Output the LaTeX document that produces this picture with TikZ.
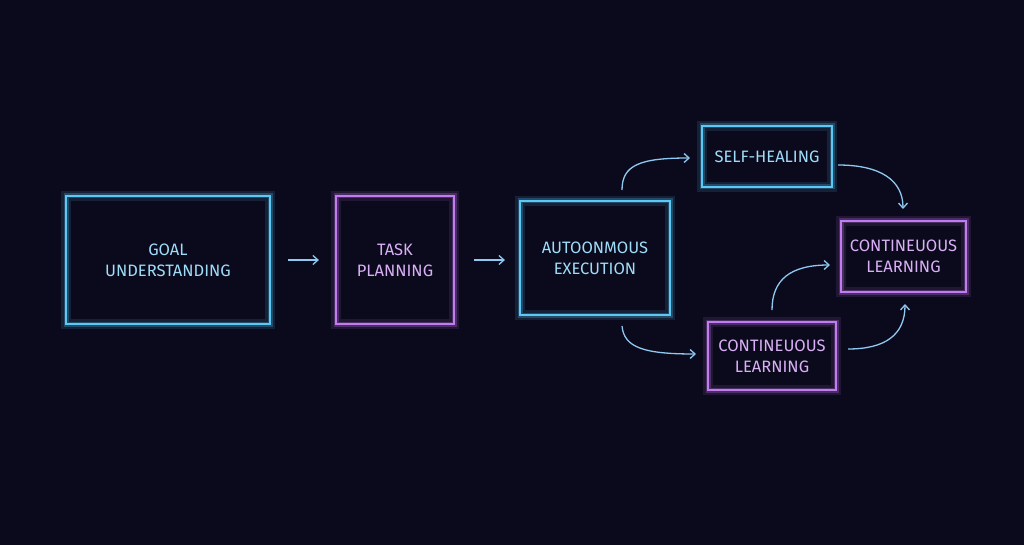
\documentclass[tikz,border=0pt]{standalone}
\usepackage{fontspec}
\setmainfont{Fira Sans}
\usetikzlibrary{arrows.meta}
\definecolor{bg}{HTML}{0B0A1C}
\definecolor{cy}{HTML}{5CC8F5}
\definecolor{cyt}{HTML}{9EDCF8}
\definecolor{pu}{HTML}{C27CF0}
\definecolor{put}{HTML}{D9B0F5}
\definecolor{ar}{HTML}{8FC8F0}
\tikzset{
  glow/.style={draw=#1, line width=2.2pt,
    preaction={draw=#1, line width=10pt, opacity=0.12},
    preaction={draw=#1, line width=5pt, opacity=0.25}},
  cbox/.style={glow=cy, minimum width=#1, text=cyt, align=center, font=\fontsize{16.5}{21}\selectfont, inner sep=0pt},
  pbox/.style={glow=pu, minimum width=#1, text=put, align=center, font=\fontsize{16.5}{21}\selectfont, inner sep=0pt},
  conn/.style={draw=ar, line width=1.3pt, -{Straight Barb[length=5pt,width=9pt]}}
}
\begin{document}
\begin{tikzpicture}[x=1pt,y=-1pt]
\fill[bg] (0,0) rectangle (1024,545);
\useasboundingbox (0,0) rectangle (1024,545);
\node[cbox=204pt, minimum height=128pt] (goal) at (168,260) {GOAL\\UNDERSTANDING};
\node[pbox=118pt, minimum height=128pt] (task) at (395,260) {TASK\\PLANNING};
\node[cbox=150pt, minimum height=114pt] (auto) at (595,258) {AUTOONMOUS\\EXECUTION};
\node[cbox=130pt, minimum height=61pt] (heal) at (767,156.5) {SELF-HEALING};
\node[pbox=125pt, minimum height=71pt] (cl1) at (903.5,256.5) {CONTINEUOUS\\LEARNING};
\node[pbox=128pt, minimum height=68pt] (cl2) at (772,356) {CONTINEUOUS\\LEARNING};
\draw[conn] ([xshift=17pt]goal.east) -- ([xshift=-16pt]task.west);
\draw[conn] ([xshift=19pt]task.east) -- ([xshift=-14pt]auto.west |- task.east);
\coordinate (a1) at (622,190); \coordinate (a2) at (690,158);
\draw[conn] (a1) .. controls (622,165) and (640,158) .. (a2);
\coordinate (b1) at (622,326); \coordinate (b2) at (696,354);
\draw[conn] (b1) .. controls (624,348) and (645,354) .. (b2);
\coordinate (c1) at (838,165); \coordinate (c2) at (903,209);
\draw[conn] (c1) .. controls (880,165) and (903,180) .. (c2);
\coordinate (d1) at (772,310); \coordinate (d2) at (830,265);
\draw[conn] (d1) .. controls (772,280) and (790,265) .. (d2);
\coordinate (e1) at (848,349); \coordinate (e2) at (905,304);
\draw[conn] (e1) .. controls (885,349) and (905,335) .. (e2);
\end{tikzpicture}
\end{document}
